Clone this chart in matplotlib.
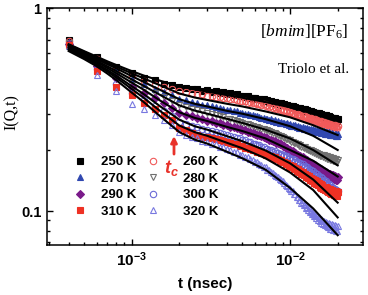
import numpy as np
import matplotlib
matplotlib.use("Agg")
import matplotlib.pyplot as plt
from matplotlib.ticker import FixedLocator, FixedFormatter, NullFormatter

plt.rcParams['font.family'] = 'Liberation Sans'
plt.rcParams['mathtext.fontset'] = 'custom'
plt.rcParams['mathtext.rm'] = 'Liberation Serif'
plt.rcParams['mathtext.it'] = 'Liberation Serif:italic'
plt.rcParams['mathtext.bf'] = 'Liberation Sans:bold'
plt.rcParams['mathtext.bfit'] = 'Liberation Sans:bold:italic'

# time grid, in units of 1e-4 ns
t_e4 = [4, 6, 8, 10, 12, 14, 16, 18, 20, 22, 24, 26, 28, 30, 32, 34, 36, 38, 40, 42,
        44, 46, 48, 50, 52, 54, 56, 58, 60, 62, 64, 66, 68, 70, 72, 74, 76, 78, 80, 82,
        84, 86, 88, 90, 92, 94, 96, 98, 100, 102, 104, 106, 108, 110, 112, 114, 116, 118, 120, 122,
        124, 126, 128, 130, 132, 134, 136, 138, 140, 142, 144, 146, 148, 150, 152, 154, 156, 158, 160, 162,
        164, 166, 168, 170, 172, 174, 176, 178, 180, 182, 184, 186, 188, 190, 192, 194, 196, 198, 200]

I_250 = [0.700, 0.575, 0.512, 0.478, 0.452, 0.441, 0.425, 0.420, 0.408, 0.406,
         0.398, 0.400, 0.392, 0.394, 0.386, 0.390, 0.383, 0.386, 0.379, 0.380,
         0.374, 0.377, 0.369, 0.371, 0.364, 0.368, 0.362, 0.360, 0.363, 0.356,
         0.358, 0.352, 0.355, 0.349, 0.351, 0.345, 0.348, 0.343, 0.346, 0.340,
         0.342, 0.337, 0.340, 0.334, 0.336, 0.331, 0.334, 0.328, 0.331, 0.326,
         0.329, 0.323, 0.327, 0.320, 0.324, 0.318, 0.322, 0.316, 0.319, 0.313,
         0.317, 0.311, 0.315, 0.309, 0.313, 0.307, 0.311, 0.305, 0.309, 0.303,
         0.306, 0.301, 0.305, 0.299, 0.303, 0.297, 0.301, 0.295, 0.299, 0.293,
         0.297, 0.292, 0.296, 0.290, 0.294, 0.288, 0.293, 0.287, 0.291, 0.285,
         0.289, 0.284, 0.288, 0.282, 0.287, 0.281, 0.285, 0.279, 0.284]
I_260 = [0.690, 0.562, 0.498, 0.462, 0.438, 0.420, 0.410, 0.398, 0.390, 0.386,
         0.382, 0.378, 0.376, 0.371, 0.369, 0.366, 0.364, 0.360, 0.362, 0.357,
         0.355, 0.352, 0.350, 0.347, 0.349, 0.343, 0.345, 0.340, 0.342, 0.337,
         0.339, 0.334, 0.336, 0.330, 0.332, 0.327, 0.329, 0.322, 0.325, 0.318,
         0.321, 0.315, 0.318, 0.312, 0.314, 0.308, 0.311, 0.305, 0.308, 0.302,
         0.305, 0.299, 0.302, 0.297, 0.300, 0.294, 0.297, 0.291, 0.295, 0.289,
         0.293, 0.287, 0.291, 0.285, 0.289, 0.283, 0.287, 0.281, 0.285, 0.279,
         0.283, 0.277, 0.281, 0.275, 0.279, 0.273, 0.278, 0.271, 0.276, 0.270,
         0.274, 0.268, 0.273, 0.267, 0.271, 0.265, 0.270, 0.264, 0.268, 0.262,
         0.267, 0.261, 0.266, 0.260, 0.265, 0.259, 0.264, 0.258, 0.262]
I_270 = [0.685, 0.552, 0.488, 0.448, 0.425, 0.402, 0.388, 0.372, 0.358, 0.352,
         0.345, 0.341, 0.335, 0.333, 0.328, 0.326, 0.321, 0.320, 0.316, 0.314,
         0.311, 0.310, 0.306, 0.305, 0.302, 0.301, 0.298, 0.297, 0.294, 0.293,
         0.291, 0.289, 0.288, 0.285, 0.286, 0.282, 0.283, 0.279, 0.280, 0.276,
         0.278, 0.273, 0.275, 0.271, 0.273, 0.268, 0.271, 0.266, 0.269, 0.264,
         0.267, 0.262, 0.265, 0.260, 0.263, 0.258, 0.261, 0.256, 0.259, 0.254,
         0.258, 0.253, 0.256, 0.251, 0.255, 0.250, 0.254, 0.248, 0.253, 0.247,
         0.252, 0.246, 0.251, 0.245, 0.250, 0.244, 0.249, 0.243, 0.248, 0.242,
         0.247, 0.241, 0.246, 0.240, 0.245, 0.239, 0.244, 0.238, 0.243, 0.237,
         0.242, 0.236, 0.241, 0.236, 0.240, 0.235, 0.240, 0.234, 0.239]
I_280 = [0.672, 0.532, 0.468, 0.428, 0.402, 0.382, 0.365, 0.348, 0.332, 0.326,
         0.320, 0.314, 0.310, 0.305, 0.300, 0.297, 0.293, 0.290, 0.286, 0.284,
         0.281, 0.279, 0.275, 0.273, 0.270, 0.268, 0.266, 0.263, 0.261, 0.259,
         0.257, 0.255, 0.253, 0.251, 0.250, 0.247, 0.246, 0.243, 0.242, 0.239,
         0.238, 0.235, 0.234, 0.231, 0.230, 0.227, 0.226, 0.223, 0.223, 0.220,
         0.220, 0.216, 0.217, 0.213, 0.214, 0.210, 0.211, 0.207, 0.208, 0.205,
         0.206, 0.202, 0.203, 0.200, 0.201, 0.197, 0.199, 0.195, 0.197, 0.193,
         0.195, 0.191, 0.193, 0.189, 0.192, 0.187, 0.190, 0.186, 0.189, 0.184,
         0.188, 0.183, 0.187, 0.181, 0.186, 0.180, 0.185, 0.179, 0.184, 0.178,
         0.183, 0.177, 0.182, 0.176, 0.181, 0.175, 0.180, 0.174, 0.179]
I_290 = [0.668, 0.522, 0.452, 0.410, 0.382, 0.360, 0.342, 0.322, 0.305, 0.298,
         0.293, 0.287, 0.284, 0.279, 0.277, 0.273, 0.271, 0.266, 0.265, 0.261,
         0.260, 0.256, 0.255, 0.251, 0.250, 0.246, 0.246, 0.242, 0.241, 0.238,
         0.237, 0.234, 0.233, 0.229, 0.229, 0.225, 0.225, 0.221, 0.221, 0.217,
         0.217, 0.213, 0.213, 0.209, 0.209, 0.205, 0.205, 0.201, 0.201, 0.197,
         0.197, 0.193, 0.194, 0.189, 0.190, 0.186, 0.187, 0.182, 0.184, 0.179,
         0.181, 0.176, 0.178, 0.173, 0.175, 0.171, 0.172, 0.168, 0.170, 0.165,
         0.168, 0.163, 0.165, 0.160, 0.163, 0.158, 0.161, 0.156, 0.159, 0.154,
         0.157, 0.152, 0.156, 0.150, 0.154, 0.149, 0.153, 0.147, 0.152, 0.146,
         0.151, 0.145, 0.150, 0.144, 0.149, 0.143, 0.148, 0.142, 0.147]
I_300 = [0.662, 0.502, 0.422, 0.380, 0.352, 0.331, 0.312, 0.293, 0.274, 0.268,
         0.263, 0.259, 0.255, 0.251, 0.249, 0.245, 0.243, 0.239, 0.238, 0.234,
         0.232, 0.229, 0.228, 0.224, 0.223, 0.220, 0.219, 0.215, 0.215, 0.211,
         0.211, 0.207, 0.207, 0.203, 0.203, 0.199, 0.200, 0.196, 0.197, 0.193,
         0.194, 0.190, 0.191, 0.187, 0.188, 0.184, 0.186, 0.181, 0.183, 0.178,
         0.180, 0.175, 0.178, 0.172, 0.175, 0.169, 0.172, 0.166, 0.170, 0.164,
         0.167, 0.161, 0.164, 0.158, 0.162, 0.156, 0.159, 0.153, 0.157, 0.151,
         0.154, 0.149, 0.152, 0.146, 0.149, 0.143, 0.147, 0.141, 0.145, 0.139,
         0.142, 0.137, 0.140, 0.134, 0.138, 0.132, 0.136, 0.130, 0.134, 0.128,
         0.131, 0.126, 0.130, 0.124, 0.128, 0.122, 0.127, 0.120, 0.125]
I_310 = [0.658, 0.490, 0.410, 0.372, 0.340, 0.318, 0.298, 0.280, 0.258, 0.252,
         0.242, 0.238, 0.233, 0.231, 0.228, 0.226, 0.223, 0.221, 0.219, 0.217,
         0.214, 0.213, 0.210, 0.209, 0.205, 0.204, 0.202, 0.200, 0.199, 0.196,
         0.196, 0.193, 0.193, 0.189, 0.190, 0.186, 0.187, 0.183, 0.184, 0.180,
         0.181, 0.177, 0.178, 0.174, 0.175, 0.170, 0.172, 0.167, 0.169, 0.164,
         0.166, 0.161, 0.163, 0.158, 0.161, 0.155, 0.158, 0.153, 0.156, 0.150,
         0.153, 0.148, 0.151, 0.145, 0.149, 0.143, 0.146, 0.141, 0.144, 0.138,
         0.142, 0.136, 0.140, 0.134, 0.138, 0.132, 0.136, 0.130, 0.134, 0.128,
         0.132, 0.127, 0.131, 0.125, 0.130, 0.124, 0.129, 0.123, 0.128, 0.122,
         0.127, 0.121, 0.126, 0.120, 0.125, 0.119, 0.125, 0.118, 0.124]
I_320 = [0.648, 0.470, 0.390, 0.337, 0.318, 0.298, 0.282, 0.265, 0.244, 0.238,
         0.232, 0.228, 0.222, 0.220, 0.215, 0.213, 0.208, 0.206, 0.202, 0.200,
         0.196, 0.195, 0.190, 0.189, 0.185, 0.184, 0.180, 0.179, 0.175, 0.174,
         0.170, 0.169, 0.165, 0.164, 0.160, 0.159, 0.156, 0.154, 0.151, 0.149,
         0.147, 0.144, 0.142, 0.140, 0.137, 0.135, 0.133, 0.130, 0.129, 0.126,
         0.125, 0.121, 0.121, 0.117, 0.117, 0.114, 0.114, 0.110, 0.111, 0.107,
         0.108, 0.104, 0.105, 0.101, 0.103, 0.099, 0.100, 0.097, 0.098, 0.094,
         0.096, 0.092, 0.094, 0.090, 0.093, 0.089, 0.091, 0.087, 0.090, 0.086,
         0.089, 0.085, 0.088, 0.084, 0.087, 0.083, 0.087, 0.082, 0.086, 0.082,
         0.086, 0.081, 0.085, 0.081, 0.085, 0.080, 0.084, 0.080, 0.084]

# fit curves (black lines)
fit_t_e4 = [4, 5, 6, 7, 8, 10, 12, 15, 20, 25, 30, 40, 50, 70, 100, 140, 200]
fit_250 = [.665, .615, .578, .548, .525, .490, .465, .440, .412, .398, .388, .373, .362, .345, .325, .305, .285]
fit_260 = [.660, .610, .570, .538, .515, .478, .450, .418, .380, .363, .353, .338, .328, .310, .290, .265, .237]
fit_270 = [.655, .603, .562, .530, .505, .463, .432, .397, .356, .338, .328, .312, .302, .284, .262, .235, .200]
fit_280 = [.645, .594, .552, .518, .490, .446, .413, .375, .332, .313, .302, .285, .272, .252, .228, .200, .168]
fit_290 = [.640, .587, .545, .508, .478, .430, .395, .352, .307, .288, .278, .260, .248, .228, .200, .177, .148]
fit_300 = [.630, .578, .535, .497, .465, .413, .376, .330, .282, .262, .252, .234, .221, .199, .172, .143, .110]
fit_310 = [.625, .572, .528, .488, .455, .400, .360, .313, .264, .245, .235, .217, .204, .182, .155, .127, .093]
fit_320 = [.615, .562, .518, .477, .442, .384, .343, .295, .245, .225, .215, .196, .182, .160, .130, .103, .076]

labels = ['250 K', '260 K', '270 K', '280 K', '290 K', '300 K', '310 K', '320 K']

t = np.array(t_e4) * 1e-4
ft = np.array(fit_t_e4) * 1e-4

fig = plt.figure(figsize=(3.68, 2.95), dpi=100)
ax = fig.add_axes([0.1277, 0.1695, 0.8587, 0.8024])

# series styles: (marker, facecolor, edgecolor, size)
styles = [
    ('s', 'black', 'black', 4.2),
    ('o', 'none', '#f05a5a', 4.6),
    ('^', '#3048b0', '#3048b0', 4.8),
    ('v', 'none', '#707070', 4.8),
    ('D', '#7a1a8a', '#7a1a8a', 3.9),
    ('o', 'none', '#6a6ad6', 4.6),
    ('s', '#ee3124', '#ee3124', 4.2),
    ('^', 'none', '#7878e0', 4.8),
]
data = [I_250, I_260, I_270, I_280, I_290, I_300, I_310, I_320]
fits = [fit_250, fit_260, fit_270, fit_280, fit_290, fit_300, fit_310, fit_320]

handles = []
for vals, (m, fc, ec, ms), lab in zip(data, styles, labels):
    h, = ax.plot(t, vals, linestyle='none', marker=m, mfc=fc, mec=ec,
                 ms=ms, mew=0.8, label=lab)
    handles.append(h)

for f in fits:
    ax.plot(ft, f, color='black', lw=1.5, zorder=5)

ax.set_xscale('log')
ax.set_yscale('log')
ax.set_xlim(2.917e-4, 2.89e-2)
ax.set_ylim(0.068, 1.0)

ax.xaxis.set_major_locator(FixedLocator([1e-3, 1e-2]))
ax.xaxis.set_major_formatter(FixedFormatter([r'$\mathbf{10^{-3}}$', r'$\mathbf{10^{-2}}$']))
ax.xaxis.set_minor_locator(FixedLocator([3e-4, 4e-4, 5e-4, 6e-4, 7e-4, 8e-4, 9e-4,
                                         2e-3, 3e-3, 4e-3, 5e-3, 6e-3, 7e-3, 8e-3, 9e-3, 2e-2]))
ax.xaxis.set_minor_formatter(NullFormatter())
ax.yaxis.set_major_locator(FixedLocator([0.1, 1.0]))
ax.yaxis.set_major_formatter(FixedFormatter(['0.1', '1']))
ax.yaxis.set_minor_locator(FixedLocator([0.07, 0.08, 0.09, 0.2, 0.3, 0.4, 0.5, 0.6, 0.7, 0.8, 0.9]))
ax.yaxis.set_minor_formatter(NullFormatter())

ax.tick_params(which='both', direction='in', top=True, right=True, width=1.0)
ax.tick_params(which='major', length=4.5, pad=4)
ax.tick_params(axis='x', which='major', labelsize=11)
ax.tick_params(axis='y', which='major', labelsize=10.5)
ax.tick_params(which='minor', length=2.5)
for lbl in ax.get_yticklabels():
    lbl.set_fontweight('bold')
for sp in ax.spines.values():
    sp.set_linewidth(1.1)

ax.set_xlabel('t (nsec)', fontsize=11, fontweight='bold')
ax.xaxis.set_label_coords(0.5, -0.135)
ax.set_ylabel('I(Q,t)', fontsize=11.5, family='Liberation Serif')
ax.yaxis.set_label_coords(-0.085, 0.56)

ax.text(0.955, 0.90, r'$\mathrm{[}\mathit{bmim}\mathrm{][PF}_{\mathrm{6}}\mathrm{]}$',
        transform=ax.transAxes, ha='right', va='center', fontsize=12.5)
ax.text(0.955, 0.74, 'Triolo et al.', transform=ax.transAxes, ha='right', va='center',
        fontsize=11, family='Liberation Serif')

# t_c marker
ax.annotate('', xy=(1.85e-3, 0.242), xytext=(1.85e-3, 0.185),
            arrowprops=dict(arrowstyle='-|>', color='#e8322a', lw=2.0, mutation_scale=9),
            zorder=6)
ax.text(1.60e-3, 0.163, r'$\mathbfit{t_c}$', color='#e8322a', fontsize=13,
        ha='left', va='center', zorder=7)

# legend: two separate columns
leg_style = dict(loc='upper left', frameon=False, borderpad=0, borderaxespad=0,
                 handlelength=1.0, labelspacing=0.32,
                 prop={'weight': 'bold', 'size': 9.5})
col1 = [0, 2, 4, 6]
col2 = [1, 3, 5, 7]
leg1 = ax.legend([handles[i] for i in col1], [labels[i] for i in col1],
                 bbox_to_anchor=(0.083, 0.375), handletextpad=1.1, **leg_style)
ax.add_artist(leg1)
ax.legend([handles[i] for i in col2], [labels[i] for i in col2],
          bbox_to_anchor=(0.315, 0.375), handletextpad=1.8, **leg_style)

fig.savefig('out.png', dpi=100)
